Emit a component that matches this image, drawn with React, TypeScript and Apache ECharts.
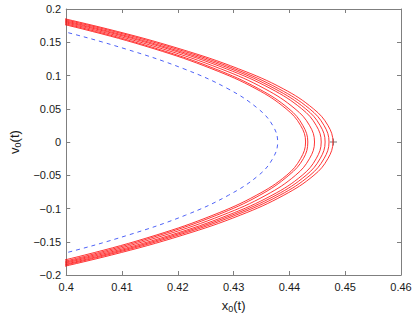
import React, { useEffect, useRef } from "react";
import * as echarts from "echarts";

// velocity levels (shared sampling of v for every curve)
const V_LEVELS = [0.2, 0.17, 0.14, 0.11, 0.08, 0.05, 0.025, 0, -0.025, -0.05, -0.08, -0.11, -0.14, -0.17, -0.2];

// x positions of each red trajectory at the velocity levels above
const RED_1 = [0.3875, 0.4029, 0.4158, 0.4261, 0.434, 0.4394, 0.442, 0.4429, 0.442, 0.4395, 0.4341, 0.4263, 0.4161, 0.4033, 0.3881];
const RED_2 = [0.3883, 0.4036, 0.4164, 0.4267, 0.4345, 0.4399, 0.4424, 0.4433, 0.4425, 0.4399, 0.4347, 0.427, 0.4168, 0.4042, 0.3892];
const RED_3 = [0.389, 0.4044, 0.4173, 0.4277, 0.4356, 0.441, 0.4436, 0.4445, 0.4436, 0.4411, 0.4358, 0.428, 0.4177, 0.405, 0.3899];
const RED_4 = [0.3896, 0.4052, 0.4182, 0.4287, 0.4367, 0.4422, 0.4448, 0.4457, 0.4448, 0.4423, 0.4369, 0.429, 0.4187, 0.4058, 0.3905];
const RED_5 = [0.3904, 0.4059, 0.4189, 0.4295, 0.4374, 0.4429, 0.4455, 0.4464, 0.4455, 0.443, 0.4376, 0.4297, 0.4194, 0.4066, 0.3913];
const RED_6 = [0.3911, 0.4067, 0.4197, 0.4302, 0.4381, 0.4436, 0.4462, 0.4471, 0.4462, 0.4437, 0.4383, 0.4304, 0.4201, 0.4073, 0.392];
const RED_7 = [0.3919, 0.4074, 0.4204, 0.4309, 0.4389, 0.4443, 0.4469, 0.4478, 0.4469, 0.4444, 0.439, 0.4312, 0.4209, 0.4081, 0.3928];
const RED_CURVES = [RED_1, RED_2, RED_3, RED_4, RED_5, RED_6, RED_7];

// blue dashed reference curve
const BLUE = [0.3822, 0.3977, 0.4106, 0.4211, 0.429, 0.4344, 0.437, 0.4379, 0.437, 0.4345, 0.4291, 0.4214, 0.4111, 0.3984, 0.3832];

// marker at the tip
const MARKER: [number, number][] = [[0.4479, 0]];

const X_MIN = 0.4, X_MAX = 0.46, X_STEP = 0.01;
const Y_MIN = -0.2, Y_MAX = 0.2, Y_STEP = 0.05;

const FONT = "'Liberation Sans', Arial, Helvetica, sans-serif";
const AXIS_COLOR = "#7f7f7f";
const TEXT_COLOR = "#1a1a1a";

function fmt(v: number): string {
  return String(+v.toFixed(2)).replace("-", "\u2212");
}

function pairs(xs: number[]): [number, number][] {
  return xs.map((x, i) => [x, V_LEVELS[i]]);
}

export default function App() {
  const ref = useRef<HTMLDivElement>(null);
  useEffect(() => {
    if (!ref.current) return;
    const chart = echarts.init(ref.current, undefined, { renderer: "svg" });
    const axisCommon = {
      type: "value" as const,
      axisLine: { show: true, onZero: false, lineStyle: { color: AXIS_COLOR, width: 1 } },
      axisTick: { show: true, inside: true, length: 4, lineStyle: { color: AXIS_COLOR } },
      splitLine: { show: false },
    };
    chart.setOption({
      animation: false,
      backgroundColor: "#ffffff",
      grid: { left: 57, right: 14, top: 9, bottom: 38, containLabel: false },
      xAxis: [
        {
          ...axisCommon,
          position: "bottom",
          min: X_MIN, max: X_MAX, interval: X_STEP,
          axisLabel: { color: TEXT_COLOR, fontFamily: FONT, fontSize: 11, margin: 6, formatter: fmt },
          name: "x{sub|0}(t)",
          nameLocation: "middle",
          nameGap: 22,
          nameTextStyle: {
            color: TEXT_COLOR, fontFamily: FONT, fontSize: 13,
            rich: { sub: { fontFamily: FONT, fontSize: 9, color: TEXT_COLOR, verticalAlign: "bottom", padding: [7, 0, 0, 0] } },
          },
        },
        {
          ...axisCommon,
          position: "top",
          min: X_MIN, max: X_MAX, interval: X_STEP,
          axisLabel: { show: false },
        },
      ],
      yAxis: [
        {
          ...axisCommon,
          position: "left",
          min: Y_MIN, max: Y_MAX, interval: Y_STEP,
          axisLabel: { color: TEXT_COLOR, fontFamily: FONT, fontSize: 11, margin: 5, formatter: fmt },
          name: "v{sub|0}(t)",
          nameLocation: "middle",
          nameGap: 42,
          nameRotate: 90,
          nameTextStyle: {
            color: TEXT_COLOR, fontFamily: FONT, fontSize: 13,
            rich: { sub: { fontFamily: FONT, fontSize: 9, color: TEXT_COLOR, verticalAlign: "bottom", padding: [7, 0, 0, 0] } },
          },
        },
        {
          ...axisCommon,
          position: "right",
          min: Y_MIN, max: Y_MAX, interval: Y_STEP,
          axisLabel: { show: false },
        },
      ],
      series: [
        {
          type: "line",
          data: pairs(BLUE),
          showSymbol: false,
          smooth: 0.4,
          clip: true,
          lineStyle: { color: "#4f63f7", width: 1, type: [4, 4] },
        },
        ...RED_CURVES.map((xs) => ({
          type: "line",
          data: pairs(xs),
          showSymbol: false,
          smooth: 0.4,
          clip: true,
          lineStyle: { color: "#ff0000", width: 0.8 },
        })),
        {
          type: "scatter",
          data: MARKER,
          symbol: "path://M-0.12,-1h0.24v2h-0.24z M-1,-0.12h2v0.24h-2z",
          symbolSize: 7,
          itemStyle: { color: "#555555" },
        },
      ],
    });
    return () => chart.dispose();
  }, []);
  return <div ref={ref} style={{ position: "fixed", left: 0, top: 0, width: 415, height: 318, background: "#fff" }} />;
}
